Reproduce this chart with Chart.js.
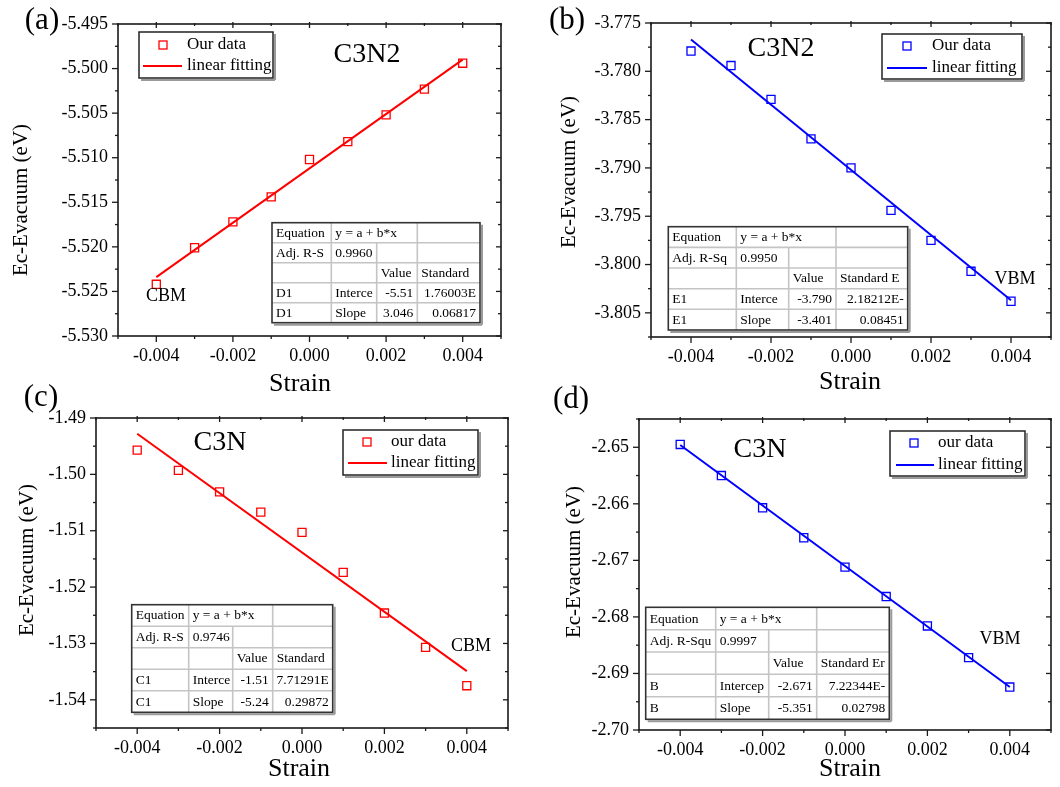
<!DOCTYPE html>
<html>
<head>
<meta charset="utf-8">
<script src="https://cdn.jsdelivr.net/npm/chart.js@4.4.0/dist/chart.umd.min.js"></script>
<style>
  html, body { margin: 0; padding: 0; background: #fff; }
  #wrap { position: relative; width: 1060px; height: 787px; overflow: hidden; }
  #wrap canvas { position: absolute; left: 0; top: 0; }
</style>
</head>
<body>
<div id="wrap">
  <canvas id="pa" width="1060" height="787"></canvas>
  <canvas id="pb" width="1060" height="787"></canvas>
  <canvas id="pc" width="1060" height="787"></canvas>
  <canvas id="pd" width="1060" height="787"></canvas>
</div>
<script>
// strain points and fit end points
const strain = [-0.004, -0.003, -0.002, -0.001, 0, 0.001, 0.002, 0.003, 0.004];
const fitStrain = [-0.004, 0.004];

// (eV)
const aEnergy = [-5.5242, -5.5201, -5.5172, -5.5144, -5.5102, -5.5082, -5.5052, -5.5023, -5.4994];
const aFit = [-5.5234, -5.4990];
const bEnergy = [-3.7779, -3.7794, -3.7829, -3.7870, -3.7900, -3.7944, -3.7975, -3.8007, -3.8038];
const bFit = [-3.7767, -3.8037];
const cEnergy = [-1.4957, -1.4993, -1.5031, -1.5067, -1.5103, -1.5174, -1.5246, -1.5307, -1.5375];
const cFit = [-1.4928, -1.5349];
const dEnergy = [-2.6495, -2.6550, -2.6607, -2.6660, -2.6712, -2.6764, -2.6816, -2.6872, -2.6924];
const dFit = [-2.6496, -2.6924];

// ticks
const xMajor = [-0.004, -0.002, 0, 0.002, 0.004];
const xLabels = ['-0.004', '-0.002', '0.000', '0.002', '0.004'];
const xMinor = [-0.005, -0.003, -0.001, 0.001, 0.003, 0.005];

const aYMajor = [-5.530, -5.525, -5.520, -5.515, -5.510, -5.505, -5.500, -5.495];
const aYLabels = ['-5.530', '-5.525', '-5.520', '-5.515', '-5.510', '-5.505', '-5.500', '-5.495'];
const aYMinor = [-5.5275, -5.5225, -5.5175, -5.5125, -5.5075, -5.5025, -5.4975];

const bYMajor = [-3.805, -3.800, -3.795, -3.790, -3.785, -3.780, -3.775];
const bYLabels = ['-3.805', '-3.800', '-3.795', '-3.790', '-3.785', '-3.780', '-3.775'];
const bYMinor = [-3.8075, -3.8025, -3.7975, -3.7925, -3.7875, -3.7825, -3.7775];

const cYMajor = [-1.54, -1.53, -1.52, -1.51, -1.50, -1.49];
const cYLabels = ['-1.54', '-1.53', '-1.52', '-1.51', '-1.50', '-1.49'];
const cYMinor = [-1.545, -1.535, -1.525, -1.515, -1.505, -1.495];

const dYMajor = [-2.70, -2.69, -2.68, -2.67, -2.66, -2.65];
const dYLabels = ['-2.70', '-2.69', '-2.68', '-2.67', '-2.66', '-2.65'];
const dYMinor = [-2.695, -2.685, -2.675, -2.665, -2.655, -2.645];

// fit tables
const aTable = [
  ['Equation', 'y = a + b*x', '', ''],
  ['Adj. R-S', '0.9960', '', ''],
  ['', '', 'Value', 'Standard'],
  ['D1', 'Interce', '-5.51', '1.76003E'],
  ['D1', 'Slope', '3.046', '0.06817']
];
const bTable = [
  ['Equation', 'y = a + b*x', '', ''],
  ['Adj. R-Sq', '0.9950', '', ''],
  ['', '', 'Value', 'Standard E'],
  ['E1', 'Interce', '-3.790', '2.18212E-'],
  ['E1', 'Slope', '-3.401', '0.08451']
];
const cTable = [
  ['Equation', 'y = a + b*x', '', ''],
  ['Adj. R-S', '0.9746', '', ''],
  ['', '', 'Value', 'Standard'],
  ['C1', 'Interce', '-1.51', '7.71291E'],
  ['C1', 'Slope', '-5.24', '0.29872']
];
const dTable = [
  ['Equation', 'y = a + b*x', '', ''],
  ['Adj. R-Squ', '0.9997', '', ''],
  ['', '', 'Value', 'Standard Er'],
  ['B', 'Intercep', '-2.671', '7.22344E-'],
  ['B', 'Slope', '-5.351', '0.02798']
];

const RED = '#ff0000';
const BLUE = '#0000ff';
const FONT = "'Liberation Serif', 'Times New Roman', serif";
Chart.defaults.font.family = FONT;
Chart.defaults.color = '#000';

const panels = [
  {
    id: 'pa', color: RED, energy: aEnergy, fit: aFit, names: ['Our data', 'linear fitting'],
    yMin: -5.530, yMax: -5.495, yMajor: aYMajor, yMinor: aYMinor, yLabels: aYLabels, table: aTable,
    area: { left: 118, top: 24, right: 501, bottom: 336 },
    texts: [
      { s: '(a)', x: 42, y: 21, size: 31 },
      { s: 'C3N2', x: 367, y: 55, size: 28 },
      { s: 'CBM', x: 166, y: 296, size: 18 },
      { s: 'Strain', x: 300, y: 384, size: 26 },
      { s: 'Ec-Evacuum (eV)', x: 21, y: 200, size: 21, rot: true }
    ],
    legend: { box: [139, 32, 273, 78], mark: [163, 45], line: [143, 182, 66], tx: 187 },
    cols: [272, 331.3, 376.7, 417.3, 480], rows: [222.7, 242.7, 262.7, 282.7, 302.7, 322.7]
  },
  {
    id: 'pb', color: BLUE, energy: bEnergy, fit: bFit, names: ['Our data', 'linear fitting'],
    yMin: -3.8075, yMax: -3.775, yMajor: bYMajor, yMinor: bYMinor, yLabels: bYLabels, table: bTable,
    area: { left: 651, top: 23, right: 1054, bottom: 337 },
    texts: [
      { s: '(b)', x: 567, y: 21, size: 31 },
      { s: 'C3N2', x: 781, y: 49, size: 28 },
      { s: 'VBM', x: 1015, y: 279, size: 18 },
      { s: 'Strain', x: 850, y: 382, size: 26 },
      { s: 'Ec-Evacuum (eV)', x: 569, y: 172, size: 21, rot: true }
    ],
    legend: { box: [882, 34, 1022, 79], mark: [907, 46], line: [887, 927, 68], tx: 932 },
    cols: [668.3, 736.3, 788.7, 836, 907.7], rows: [226.7, 247.4, 268, 288.7, 309.3, 330]
  },
  {
    id: 'pc', color: RED, energy: cEnergy, fit: cFit, names: ['our data', 'linear fitting'],
    yMin: -1.545, yMax: -1.49, yMajor: cYMajor, yMinor: cYMinor, yLabels: cYLabels, table: cTable,
    area: { left: 96, top: 418, right: 508, bottom: 728 },
    texts: [
      { s: '(c)', x: 41, y: 398, size: 31 },
      { s: 'C3N', x: 220, y: 443, size: 28 },
      { s: 'CBM', x: 471, y: 646, size: 18 },
      { s: 'Strain', x: 299, y: 769, size: 26 },
      { s: 'Ec-Evacuum (eV)', x: 27, y: 560, size: 21, rot: true }
    ],
    legend: { box: [343, 430, 478, 475], mark: [367, 442], line: [348, 387, 463], tx: 391 },
    cols: [131.7, 188.7, 232.7, 272.7, 332.7], rows: [604.7, 626.2, 647.7, 669.2, 690.7, 712.3]
  },
  {
    id: 'pd', color: BLUE, energy: dEnergy, fit: dFit, names: ['our data', 'linear fitting'],
    yMin: -2.70, yMax: -2.645, yMajor: dYMajor, yMinor: dYMinor, yLabels: dYLabels, table: dTable,
    area: { left: 639, top: 419, right: 1051, bottom: 730 },
    texts: [
      { s: '(d)', x: 571, y: 400, size: 31 },
      { s: 'C3N', x: 760, y: 450, size: 28 },
      { s: 'VBM', x: 1000, y: 639, size: 18 },
      { s: 'Strain', x: 850, y: 769, size: 26 },
      { s: 'Ec-Evacuum (eV)', x: 574, y: 562, size: 21, rot: true }
    ],
    legend: { box: [890, 431, 1025, 476], mark: [914, 443], line: [896, 934, 465], tx: 938 },
    cols: [645.7, 715.7, 768.7, 816.7, 889.3], rows: [607.3, 629.7, 652, 674.3, 696.7, 719.3]
  }
];

function isIn(list, v) {
  return list.some(m => Math.abs(m - v) < 1e-9);
}

function setTicks(major, minor) {
  return scale => {
    scale.ticks = major.concat(minor).sort((a, b) => a - b).map(v => ({ value: v }));
  };
}

function labelFor(major, labels) {
  return value => {
    const i = major.findIndex(m => Math.abs(m - value) < 1e-9);
    return i >= 0 ? labels[i] : '';
  };
}

function text(ctx, s, x, y, size, rot, align) {
  ctx.save();
  ctx.font = size + 'px ' + FONT;
  ctx.fillStyle = '#000';
  ctx.textAlign = align || 'center';
  ctx.textBaseline = 'middle';
  ctx.translate(x, y);
  if (rot) ctx.rotate(-Math.PI / 2);
  ctx.fillText(s, 0, 0);
  ctx.restore();
}

function line(ctx, x1, y1, x2, y2) {
  ctx.beginPath();
  ctx.moveTo(x1, y1);
  ctx.lineTo(x2, y2);
  ctx.stroke();
}

function drawTable(ctx, rowsText, c, r) {
  const L = c[0], R = c[4], T = r[0], B = r[5];
  ctx.save();
  ctx.fillStyle = '#fff';
  ctx.fillRect(L, T, R - L, B - T);
  ctx.strokeStyle = '#c4c4c4';
  ctx.lineWidth = 1.6;
  for (let i = 1; i < 5; i++) line(ctx, L, r[i], R, r[i]);
  line(ctx, c[1], T, c[1], B);
  line(ctx, c[2], r[1], c[2], B);
  line(ctx, c[3], T, c[3], B);
  // outer frame with a light shadow
  ctx.strokeStyle = '#9a9a9a';
  ctx.lineWidth = 2;
  line(ctx, R + 2, T + 2, R + 2, B + 2);
  line(ctx, L + 2, B + 2, R + 2, B + 2);
  ctx.strokeStyle = '#333';
  ctx.lineWidth = 1.6;
  ctx.strokeRect(L, T, R - L, B - T);
  ctx.font = '13.5px ' + FONT;
  ctx.fillStyle = '#000';
  ctx.textBaseline = 'middle';
  rowsText.forEach((row, i) => {
    const y = (r[i] + r[i + 1]) / 2 + 0.5;
    row.forEach((s, j) => {
      if (!s) return;
      let x, align = 'left';
      if (j === 2 && i > 2) { x = c[3] - 4; align = 'right'; }
      else if (j === 3 && i > 2) { x = c[4] - 4; align = 'right'; }
      else x = c[j] + 4;
      ctx.textAlign = align;
      ctx.fillText(s, x, y);
    });
  });
  ctx.restore();
}

function decor(p) {
  return {
    id: 'decor_' + p.id,
    afterDraw(chart) {
      const ctx = chart.ctx;
      const a = chart.chartArea;
      const xs = chart.scales.x, ys = chart.scales.y;
      ctx.save();
      ctx.strokeStyle = '#1a1a1a';
      ctx.lineWidth = 1.6;
      ctx.strokeRect(a.left, a.top, a.right - a.left, a.bottom - a.top);
      ctx.lineWidth = 1.3;
      xs.ticks.forEach(t => {
        const px = xs.getPixelForValue(t.value);
        const big = isIn(xMajor, t.value);
        line(ctx, px, a.bottom, px, a.bottom + (big ? 6 : 3));
        line(ctx, px, a.top - (big ? 2 : 1), px, a.top + (big ? 4 : 2));
      });
      ys.ticks.forEach(t => {
        const py = ys.getPixelForValue(t.value);
        const big = isIn(p.yMajor, t.value);
        line(ctx, a.left - (big ? 6 : 3), py, a.left, py);
        line(ctx, a.right - (big ? 5 : 3), py, a.right, py);
      });
      ctx.restore();

      p.texts.forEach(t => text(ctx, t.s, t.x, t.y, t.size, t.rot));

      // legend
      const lg = p.legend;
      const ds = chart.data.datasets;
      ctx.save();
      ctx.fillStyle = '#fff';
      ctx.fillRect(lg.box[0], lg.box[1], lg.box[2] - lg.box[0], lg.box[3] - lg.box[1]);
      ctx.strokeStyle = '#9a9a9a';
      ctx.lineWidth = 2;
      line(ctx, lg.box[2] + 2, lg.box[1] + 2, lg.box[2] + 2, lg.box[3] + 2);
      line(ctx, lg.box[0] + 2, lg.box[3] + 2, lg.box[2] + 2, lg.box[3] + 2);
      ctx.strokeStyle = '#222';
      ctx.lineWidth = 1.5;
      ctx.strokeRect(lg.box[0], lg.box[1], lg.box[2] - lg.box[0], lg.box[3] - lg.box[1]);
      ctx.strokeStyle = ds[0].borderColor;
      ctx.lineWidth = ds[0].borderWidth;
      ctx.strokeRect(lg.mark[0] - 4, lg.mark[1] - 4, 8, 8);
      ctx.strokeStyle = ds[1].borderColor;
      ctx.lineWidth = ds[1].borderWidth;
      line(ctx, lg.line[0], lg.line[2], lg.line[1], lg.line[2]);
      ctx.restore();
      text(ctx, ds[0].label, lg.tx, lg.mark[1], 17, false, 'left');
      text(ctx, ds[1].label, lg.tx, lg.line[2], 17, false, 'left');

      drawTable(ctx, p.table, p.cols, p.rows);
    }
  };
}

panels.forEach(p => {
  const yWidth = 80, xHeight = 40;
  new Chart(document.getElementById(p.id), {
    type: 'scatter',
    data: {
      datasets: [
        {
          label: p.names[0],
          data: strain.map((x, i) => ({ x, y: p.energy[i] })),
          pointStyle: 'rect',
          pointRadius: 5.7,
          pointHoverRadius: 5.7,
          borderColor: p.color,
          backgroundColor: 'rgba(0,0,0,0)',
          borderWidth: 1.3,
          showLine: false,
          order: 1
        },
        {
          label: p.names[1],
          type: 'line',
          data: fitStrain.map((x, i) => ({ x, y: p.fit[i] })),
          borderColor: p.color,
          borderWidth: 2,
          pointRadius: 0,
          fill: false,
          order: 2
        }
      ]
    },
    options: {
      responsive: false,
      animation: false,
      devicePixelRatio: 1,
      layout: {
        padding: {
          left: p.area.left - yWidth,
          top: p.area.top,
          right: 1060 - p.area.right,
          bottom: 787 - p.area.bottom - xHeight
        }
      },
      plugins: { legend: { display: false }, tooltip: { enabled: false } },
      scales: {
        x: {
          type: 'linear',
          min: -0.005,
          max: 0.005,
          afterBuildTicks: setTicks(xMajor, xMinor),
          afterFit: s => { s.height = xHeight; },
          grid: { display: false, drawTicks: false },
          border: { display: false },
          ticks: {
            callback: labelFor(xMajor, xLabels),
            autoSkip: false, maxRotation: 0, minRotation: 0,
            padding: 9, color: '#000', font: { size: 18 }
          }
        },
        y: {
          type: 'linear',
          min: p.yMin,
          max: p.yMax,
          afterBuildTicks: setTicks(p.yMajor, p.yMinor),
          afterFit: s => { s.width = yWidth; },
          grid: { display: false, drawTicks: false },
          border: { display: false },
          ticks: {
            callback: labelFor(p.yMajor, p.yLabels),
            autoSkip: false,
            padding: 10, color: '#000', font: { size: 18 }
          }
        }
      }
    },
    plugins: [decor(p)]
  });
});
</script>
</body>
</html>
